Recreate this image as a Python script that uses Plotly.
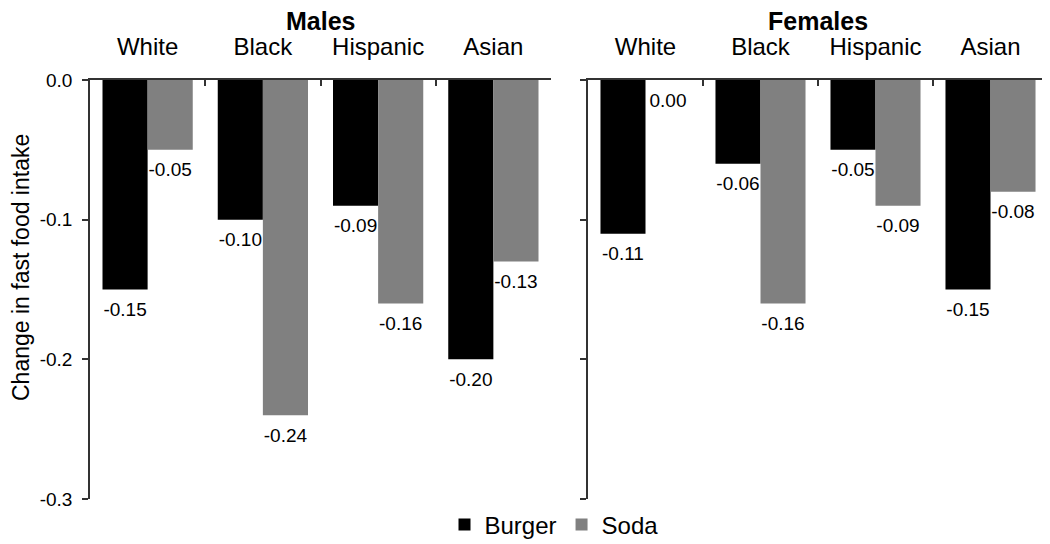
import plotly.graph_objects as go

categories = ["White", "Black", "Hispanic", "Asian"]
panels = ["Males", "Females"]
burger_males = [-0.15, -0.10, -0.09, -0.20]
soda_males = [-0.05, -0.24, -0.16, -0.13]
burger_females = [-0.11, -0.06, -0.05, -0.15]
soda_females = [0.00, -0.16, -0.09, -0.08]
y_ticks = [0.0, -0.1, -0.2, -0.3]
y_tick_labels = ["0.0", "-0.1", "-0.2", "-0.3"]

BURGER = "#000000"
SODA = "#808080"
FONT = "Liberation Sans, Arial, sans-serif"
AXC = "#333333"

W, H = 1050, 544
# the page places the figure 8px in from the top-left corner
OFF = 8

fig = go.Figure()

series = [
    ("x", "y", burger_males, soda_males, True),
    ("x2", "y2", burger_females, soda_females, False),
]
for xa, ya, bur, sod, leg in series:
    fig.add_trace(go.Bar(x=categories, y=bur, name="Burger", marker_color=BURGER,
                         marker_line_width=0, offsetgroup="b", xaxis=xa, yaxis=ya,
                         showlegend=leg, legendgroup="b"))
    fig.add_trace(go.Bar(x=categories, y=sod, name="Soda", marker_color=SODA,
                         marker_line_width=0, offsetgroup="s", xaxis=xa, yaxis=ya,
                         showlegend=leg, legendgroup="s"))
    for vals, grp in ((bur, "b"), (sod, "s")):
        fig.add_trace(go.Scatter(x=categories, y=vals, mode="markers+text",
                                 marker=dict(size=18, color="rgba(0,0,0,0)"),
                                 text=[f"{v:.2f}" for v in vals],
                                 textposition="bottom center",
                                 textfont=dict(size=19, color="#000000", family=FONT),
                                 offsetgroup=grp, xaxis=xa, yaxis=ya,
                                 showlegend=False, cliponaxis=False, hoverinfo="skip"))

def px_x(p):
    return (p - OFF) / W

def px_y(p):
    return (H - (p - OFF)) / H

ydom = [px_y(499), px_y(80)]
xdom1 = [px_x(90), px_x(551)]
xdom2 = [px_x(588), px_x(1048)]

xcommon = dict(side="top", showline=True, linecolor=AXC, linewidth=1.5,
               ticks="inside", tickson="boundaries", ticklen=6, tickcolor=AXC,
               tickwidth=1.5, tickfont=dict(size=24, color="#000", family=FONT),
               ticklabelstandoff=14, showgrid=False, zeroline=False, automargin=False,
               categoryorder="array", categoryarray=categories, fixedrange=True)
ycommon = dict(range=[-0.3, 0], tickvals=y_ticks, ticktext=y_tick_labels,
               showline=True, linecolor=AXC, linewidth=1.5, ticks="outside",
               ticklen=6, tickcolor=AXC, tickwidth=1.5, showgrid=False,
               zeroline=False, automargin=False, domain=ydom)

fig.update_layout(
    width=W, height=H,
    margin=dict(l=0, r=0, t=0, b=0, autoexpand=False),
    paper_bgcolor="white", plot_bgcolor="white",
    font=dict(family=FONT, color="#000"),
    barmode="group", bargap=0.217, bargroupgap=0,
    scattermode="group", scattergap=0.217,
    xaxis=dict(domain=xdom1, anchor="y", **xcommon),
    xaxis2=dict(domain=xdom2, anchor="y2", **xcommon),
    yaxis=dict(anchor="x", tickfont=dict(size=19, color="#000", family=FONT),
               ticklabelstandoff=6, **ycommon),
    yaxis2=dict(anchor="x2", showticklabels=False, **ycommon),
    legend=dict(orientation="h", x=px_x(554), xanchor="center", y=px_y(525),
                yanchor="middle", font=dict(size=24, family=FONT, color="#000"),
                itemwidth=30, itemsizing="constant", traceorder="normal",
                bgcolor="rgba(0,0,0,0)", tracegroupgap=0),
    showlegend=True,
)

for title, xref in zip(panels, ["x domain", "x2 domain"]):
    fig.add_annotation(text=f"<b>{title}</b>", x=0.5, xref=xref, y=px_y(21),
                       yref="paper", showarrow=False, xanchor="center", yanchor="middle",
                       font=dict(size=25, family=FONT, color="#000"))

fig.add_annotation(text="Change in fast food intake", textangle=-90,
                   x=px_x(21), xref="paper", y=px_y(268), yref="paper",
                   showarrow=False, xanchor="center", yanchor="middle",
                   font=dict(size=23, family=FONT, color="#000"))

fig.write_html("out.html")
